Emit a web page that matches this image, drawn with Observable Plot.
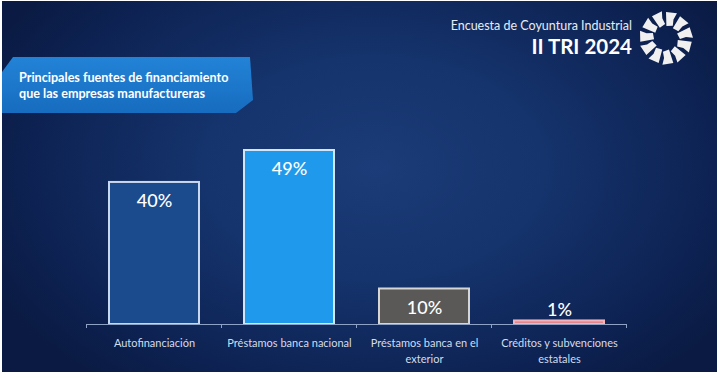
<!DOCTYPE html>
<html>
<head>
<meta charset="utf-8">
<script src="https://cdn.jsdelivr.net/npm/d3@7"></script>
<script src="https://cdn.jsdelivr.net/npm/@observablehq/plot@0.6"></script>
<style>
  html, body { margin: 0; padding: 0; background: #ffffff; }
  #frame { position: relative; width: 720px; height: 378px; background: #ffffff; overflow: hidden; font-family: Lato, "Open Sans", sans-serif; }
  #bg { position: absolute; left: 2px; top: 1px; width: 715px; height: 371px;
        background: radial-gradient(ellipse 60% 75% at 52% 45%, #1b3c78 0%, #15336c 40%, #0d2252 80%, #0a1a42 100%); }
  #banner { position: absolute; left: 0; top: 0; }
  .t1 { position: absolute; right: 88px; top: 18px; font-size: 12.5px; color: #e6ecf6; white-space: nowrap; }
  .t2 { position: absolute; right: 88px; top: 34px; font-size: 20.5px; font-weight: 700; color: #ffffff; white-space: nowrap; }
  .b1 { position: absolute; left: 19px; top: 70px; font-size: 12.6px; font-weight: 700; color: #ffffff; line-height: 16px; white-space: nowrap; }
  #plot { position: absolute; left: 0; top: 0; }
</style>
</head>
<body>
<div id="frame">
  <div id="bg"></div>
  <svg id="banner" width="720" height="378">
    <defs>
      <linearGradient id="bg1" x1="0" y1="0" x2="0" y2="1">
        <stop offset="0" stop-color="#2283d6"/>
        <stop offset="1" stop-color="#176cbf"/>
      </linearGradient>
    </defs>
    <polygon points="13,57 250,57 253,100 236,113 2,113 2,72" fill="url(#bg1)"/>
    <g id="logo" transform="translate(666,38)" fill="#f0f0f0"></g>
  </svg>
  <div class="t1">Encuesta de Coyuntura Industrial</div>
  <div class="t2">II TRI 2024</div>
  <div class="b1">Principales fuentes de financiamiento<br>que las empresas manufactureras</div>
  <div id="plot"></div>
</div>
<script>
// ---- data ----
const categories = ["Autofinanciación", "Préstamos banca nacional", "Préstamos banca en el exterior", "Créditos y subvenciones estatales"];
const tickLabels = ["Autofinanciación", "Préstamos banca nacional", "Préstamos banca en el\nexterior", "Créditos y subvenciones\nestatales"];
const values = [40, 49, 10, 1];
const valueLabels = ["40%", "49%", "10%", "1%"];
const fills = ["#1b4b8d", "#1e99ec", "#5a5957", "#e0868c"];
const strokes = ["#c8d8ee", "#d2e6fa", "#d6d6d6", "#f2b4ba"];

const data = categories.map((c, i) => ({cat: c, value: values[i], label: valueLabels[i], fill: fills[i], stroke: strokes[i]}));

// decorative logo (ring of arrow-like segments)
(function () {
  const g = document.getElementById("logo");
  const n = 11;
  for (let k = 0; k < n; k++) {
    const a = k * 360 / n;
    const pts = [[12, 2], [26, 0], [27, 24], [20, 22], [14, 29]].map(([r, d]) => {
      const t = (a + d - 90) * Math.PI / 180;
      return [r * Math.cos(t), r * Math.sin(t)].map(v => v.toFixed(2)).join(",");
    }).join(" ");
    const p = document.createElementNS("http://www.w3.org/2000/svg", "polygon");
    p.setAttribute("points", pts);
    g.appendChild(p);
  }
})();

const paddingInner = 0.33, paddingOuter = 0.165;

function boundaryTicks(index, scales, values, dimensions) {
  const x = scales.x;
  const g = d3.create("svg:g");
  if (!x || !dimensions) return g.node();
  const bw = x.bandwidth ? x.bandwidth() : 0;
  const step = x.step ? x.step() : bw / (1 - paddingInner);
  const y0 = dimensions.height - dimensions.marginBottom;
  const xs = categories.map(c => x(c) - (step - bw) / 2);
  xs.push(x(categories[categories.length - 1]) + bw + (step - bw) / 2);
  g.selectAll("line").data(xs).join("line")
    .attr("x1", d => d).attr("x2", d => d)
    .attr("y1", y0).attr("y2", y0 + 4)
    .attr("stroke", "#8ea2c6").attr("stroke-width", 1);
  return g.node();
}

const chart = Plot.plot({
  width: 720,
  height: 378,
  marginLeft: 86,
  marginRight: 93,
  marginTop: 150,
  marginBottom: 54,
  style: {background: "transparent", fontFamily: "Lato, 'Open Sans', sans-serif", overflow: "visible"},
  x: {domain: categories, paddingInner, paddingOuter, axis: null},
  y: {domain: [0, 49], axis: null},
  marks: [
    Plot.barY(data, {x: "cat", y: "value", fill: d => d.fill, stroke: d => d.stroke, strokeWidth: 2}),
    Plot.ruleY([0], {stroke: "#8ea2c6", strokeWidth: 1}),
    boundaryTicks,
    Plot.text(data.filter(d => d.value >= 5), {x: "cat", y: "value", text: "label", dy: 19, fill: "#ffffff", fontSize: 18, fontWeight: 500}),
    Plot.text(data.filter(d => d.value < 5), {x: "cat", y: "value", text: "label", dy: -11, fill: "#ffffff", fontSize: 18, fontWeight: 500}),
    Plot.axisX({tickSize: 0, tickPadding: 11, fontSize: 11, fill: "#d3dcec", lineHeight: 1.45, label: null,
      tickFormat: d => tickLabels[categories.indexOf(d)]})
  ]
});
document.getElementById("plot").appendChild(chart);
</script>
</body>
</html>
